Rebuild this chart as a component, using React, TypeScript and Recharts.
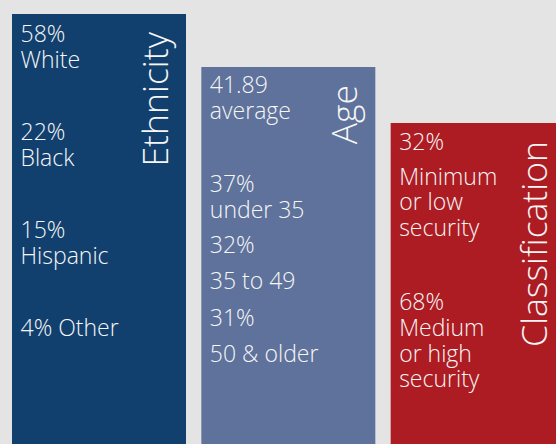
import React from 'react';
import { BarChart, Bar, Cell, XAxis, YAxis } from 'recharts';

// ─── Data ────────────────────────────────────────────────────────────────────

const categories = ['Ethnicity', 'Age', 'Classification'];
const barValues = [430, 377, 321];

const ethnicityLines = ['58%', 'White', '22%', 'Black', '15%', 'Hispanic', '4% Other'];
const ageLines = ['41.89', 'average', '37%', 'under 35', '32%', '35 to 49', '31%', '50 & older'];
const classificationLines = [
  '32%', 'Minimum', 'or low', 'security',
  '68%', 'Medium', 'or high', 'security',
];

// ─── Layout / style ──────────────────────────────────────────────────────────

const W = 556;
const H = 444;
const BG = '#e5e4e4';
const COLORS = ['#12406e', '#5e729b', '#ae1c23'];
const FONT = '"Open Sans", "Noto Sans", sans-serif';

// baseline offsets (px below the top of each bar) for the text lines
const lineOffsets = [
  [28, 54, 126, 152, 224, 250, 322],
  [26, 52, 125, 151, 186, 222, 259, 295],
  [27, 62, 87, 113, 187, 213, 239, 264],
];

const data = categories.map((c, i) => ({
  category: c,
  value: barValues[i],
  lines: [ethnicityLines, ageLines, classificationLines][i],
}));

function PanelShape(props: any) {
  const { x, y, width, height, fill, payload, index } = props;
  const offs = lineOffsets[index] || [];
  const tx = x + width - 18;
  const ty = y + 18;
  return (
    <g>
      <rect x={x} y={y} width={width} height={height} fill={fill} />
      {payload.lines.map((t: string, i: number) => (
        <text
          key={i}
          x={x + 8.5}
          y={y + offs[i]}
          fill="#f6f6f6"
          fontSize={23}
          fontWeight={300}
          fontFamily={FONT}
        >
          {t}
        </text>
      ))}
      <text
        x={tx}
        y={ty}
        transform={`rotate(-90 ${tx} ${ty})`}
        textAnchor="end"
        fill="#f6f6f6"
        fontSize={35.5}
        fontWeight={300}
        fontFamily={FONT}
      >
        {payload.category}
      </text>
    </g>
  );
}

export default function App() {
  return (
    <div
      style={{
        position: 'fixed', left: 0, top: 0, width: W, height: H,
        overflow: 'hidden', background: BG,
      }}
    >
      <BarChart
        width={572}
        height={H}
        data={data}
        margin={{ top: 0, right: 0, left: 4, bottom: 0 }}
      >
        <XAxis dataKey="category" hide />
        <YAxis hide domain={[0, H]} />
        <Bar dataKey="value" barSize={174} isAnimationActive={false} shape={PanelShape}>
          {data.map((d, i) => (
            <Cell key={d.category} fill={COLORS[i]} />
          ))}
        </Bar>
      </BarChart>
    </div>
  );
}
